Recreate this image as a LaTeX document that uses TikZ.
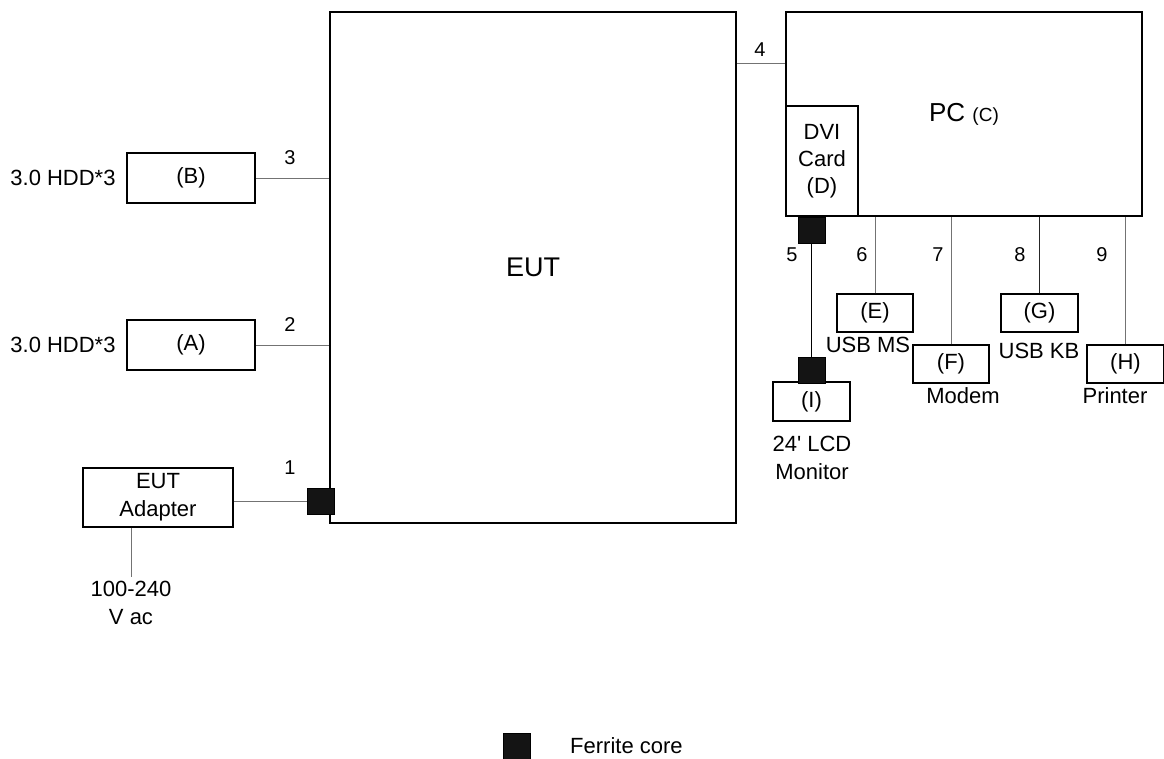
\documentclass[tikz,border=0pt]{standalone}
\usepackage{fontspec}
\setmainfont{Liberation Sans}
\setmonofont{Liberation Sans}
\begin{document}
\begin{tikzpicture}[x=1pt,y=-1pt,
  box/.style={draw=black,line width=1.5pt,inner sep=0pt,align=center,font=\fontsize{22}{27}\selectfont},
  core/.style={draw=black,fill=black!92,line width=0.8pt,minimum width=27pt,minimum height=26pt,inner sep=0pt},
  wire/.style={draw=black!55,line width=1pt},
  lbl/.style={inner sep=0pt,font=\fontsize{20}{24}\selectfont},
  captxt/.style={inner sep=0pt,align=center,font=\fontsize{22}{28}\selectfont}]
\useasboundingbox (0,0) rectangle (1164,758);
\clip (0,0) rectangle (1164,758);
% main boxes
\node[box,minimum width=406pt,minimum height=511pt,font=\fontsize{27}{32}\selectfont] (eut) at (533,267.5) {EUT};
\node[box,minimum width=356pt,minimum height=204pt] (pc) at (964,114) {\fontsize{26}{30}\selectfont PC \fontsize{19}{24}\selectfont(C)};
\node[box,minimum width=72pt,minimum height=110pt] (dvi) at (822,161) {DVI\\Card\\(D)};
\node[box,minimum width=128pt,minimum height=50pt] (B) at (191,178) {(B)};
\node[box,minimum width=128pt,minimum height=50pt] (A) at (191,345) {(A)};
\node[box,minimum width=150pt,minimum height=59pt,font=\fontsize{22}{28}\selectfont] (adapter) at (158,497.5) {EUT\\Adapter};
\node[box,minimum width=76pt,minimum height=38pt] (E) at (875,313) {(E)};
\node[box,minimum width=76pt,minimum height=38pt] (F) at (951,364) {(F)};
\node[box,minimum width=77pt,minimum height=38pt] (G) at (1039.5,313) {(G)};
\node[box,minimum width=77pt,minimum height=38pt] (H) at (1125.5,364) {(H)};
\node[box,minimum width=77pt,minimum height=39pt] (I) at (811.5,401.5) {(I)};
% cores
\node[core] (c5a) at (811.5,230) {};
\node[core] (c5b) at (811.5,370) {};
\node[core] (c1) at (320.5,501) {};
\node[core] (cl) at (516.5,746) {};
% wires
\draw[wire] (B.east) -- (B.east -| eut.west);
\draw[wire] (A.east) -- (A.east -| eut.west);
\draw[wire] (c1.west -| adapter.east) -- (c1.west);
\coordinate (vtop) at (131,577);
\draw[wire] (vtop |- adapter.south) -- (vtop);
\coordinate (p4) at (760,63);
\draw[wire] (p4 -| eut.east) -- (p4 -| pc.west);
\draw[wire,draw=black] (c5a.south) -- (c5b.north);
\draw[wire] (E.north) -- (E.north |- pc.south);
\draw[wire] (F.north) -- (F.north |- pc.south);
\draw[wire,draw=black!85] (G.north) -- (G.north |- pc.south);
\draw[wire] (H.north) -- (H.north |- pc.south);
% number labels
\node[lbl] (n1) at (290,468) {1};
\node[lbl] (n2) at (290,325) {2};
\node[lbl] (n3) at (290,158) {3};
\node[lbl] (n4) at (760,50) {4};
\node[lbl] (n5) at (792,255) {5};
\node[lbl] (n6) at (862,255) {6};
\node[lbl] (n7) at (938,255) {7};
\node[lbl] (n8) at (1020,255) {8};
\node[lbl] (n9) at (1102,255) {9};
% captions
\node[captxt] (hddB) at (63,178) {3.0 HDD*3};
\node[captxt] (hddA) at (63,345) {3.0 HDD*3};
\node[captxt] (vac) at (131,603) {100-240\\V ac};
\node[captxt] (usbms) at (868,345) {USB MS};
\node[captxt] (modem) at (963,396) {Modem};
\node[captxt] (usbkb) at (1039,351) {USB KB};
\node[captxt] (printer) at (1115,396) {Printer};
\node[captxt] (mon) at (812,457.5) {24{\ttfamily '} LCD\\Monitor};
\node[captxt,anchor=west] (leg) at (570,746) {Ferrite core};
\end{tikzpicture}
\end{document}
